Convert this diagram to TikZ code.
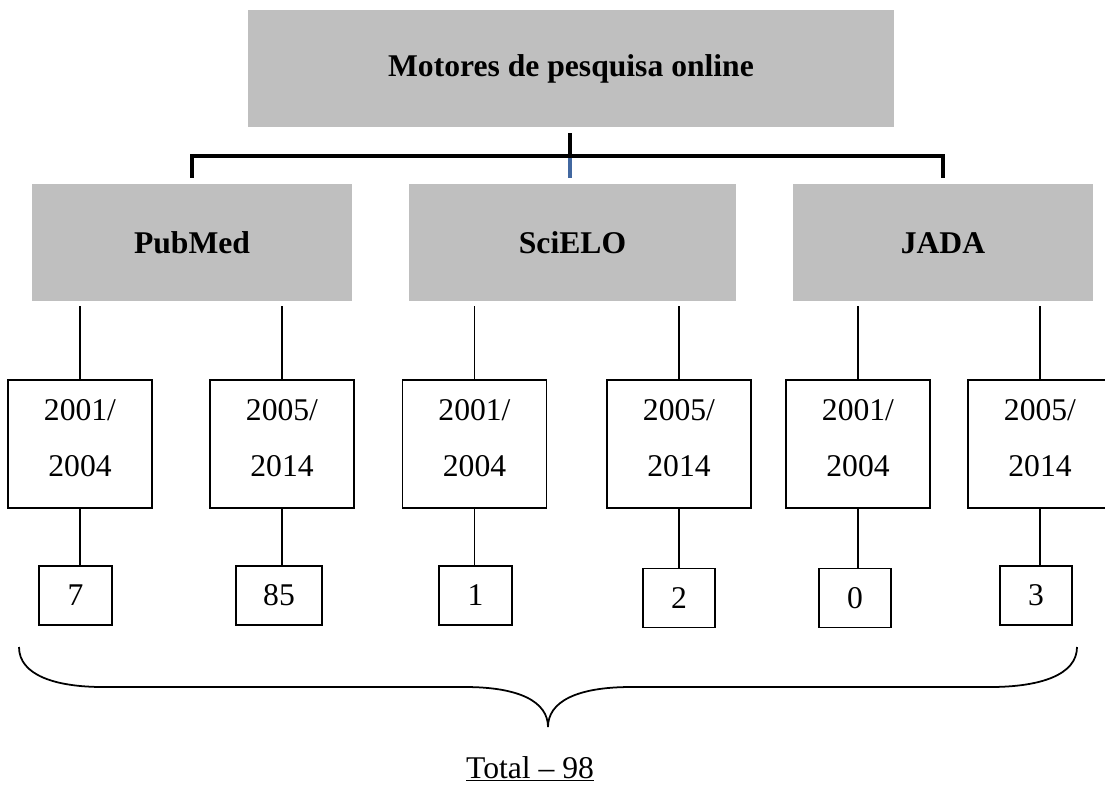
\documentclass[tikz,border=0pt]{standalone}
\usepackage{fontspec}
\setmainfont{Liberation Serif}
\usetikzlibrary{calc}
\definecolor{stubblue}{RGB}{66,104,160}
\tikzset{
  engine/.style={fill=gray!50, minimum height=2.34cm, inner sep=0pt, text height=0.42cm, text depth=0cm, font=\fontsize{18}{21}\selectfont\bfseries},
  period/.style={draw, line width=1pt, minimum width=2.88cm, minimum height=2.56cm, inner sep=0pt, align=center, text depth=0.24cm, font=\fontsize{18}{32}\selectfont},
  count/.style={draw, line width=1pt, minimum height=1.18cm, inner sep=0pt, font=\fontsize{18}{21}\selectfont},
  bracket/.style={line width=2.3pt},
  link/.style={line width=1pt}
}
\begin{document}
\begin{tikzpicture}[x=0.02cm, y=-0.02cm]
  \useasboundingbox (0,0) rectangle (1105,785);
  \clip (0,0) rectangle (1105,785);

  % Search engines
  \node[engine, minimum width=12.92cm, text depth=0.1cm] (motores) at (571,68.5) {Motores de pesquisa online};
  \node[engine, minimum width=6.4cm] (pubmed) at (192,242.5) {PubMed};
  \node[engine, minimum width=6.54cm] (scielo) at (572.5,242.5) {SciELO};
  \node[engine, minimum width=6cm] (jada) at (943,242.5) {JADA};

  % Bracket
  \coordinate (hub) at (570,156);
  \coordinate (stubend) at ([yshift=0.12cm]scielo.north);
  \draw[stubblue, line width=2.2pt] (hub) -- (hub |- stubend);
  \draw[bracket] ([yshift=-0.12cm]motores.south -| hub) -- (hub);
  \draw[bracket] ([yshift=0.12cm]pubmed.north) |- (hub) -| ([yshift=0.12cm]jada.north);

  % Periods
  \node[period] (p1) at (80,444) {2001/\\2004};
  \node[period] (p2) at (282,444) {2005/\\2014};
  \node[period] (p3) at (474.5,444) {2001/\\2004};
  \node[period] (p4) at (679,444) {2005/\\2014};
  \node[period] (p5) at (858,444) {2001/\\2004};
  \node[period] (p6) at (1040,444) {2005/\\2014};
  \foreach \e/\p in {pubmed/p1, pubmed/p2, scielo/p3, scielo/p4, jada/p5, jada/p6}
    \draw[link] ($(\e.south -| \p)+(0,5)$) -- (\p.north);

  % Counts
  \node[count, minimum width=1.46cm] (c1) at (75.5,595.5) {7};
  \node[count, minimum width=1.72cm] (c2) at (279,595.5) {85};
  \node[count, minimum width=1.46cm] (c3) at (475.5,595.5) {1};
  \node[count, minimum width=1.44cm] (c4) at (679,598) {2};
  \node[count, minimum width=1.44cm] (c5) at (855,598) {0};
  \node[count, minimum width=1.44cm] (c6) at (1036,595.5) {3};
  \foreach \i in {1,...,6}
    \draw[link] (p\i.south) -- (p\i.south |- c\i.north);

  % Brace and total
  \draw[line width=1pt] (19,647) .. controls (19,675) and (55,687) .. (103,687) -- (465,687)
    .. controls (520,687) and (548,702) .. (548,727)
    .. controls (548,702) and (576,687) .. (631,687) -- (990,687)
    .. controls (1040,687) and (1077,675) .. (1077,647);
  \node[font=\fontsize{18}{21}\selectfont, anchor=base] (total) at (530,778) {\underline{Total -- 98}};
\end{tikzpicture}
\end{document}
